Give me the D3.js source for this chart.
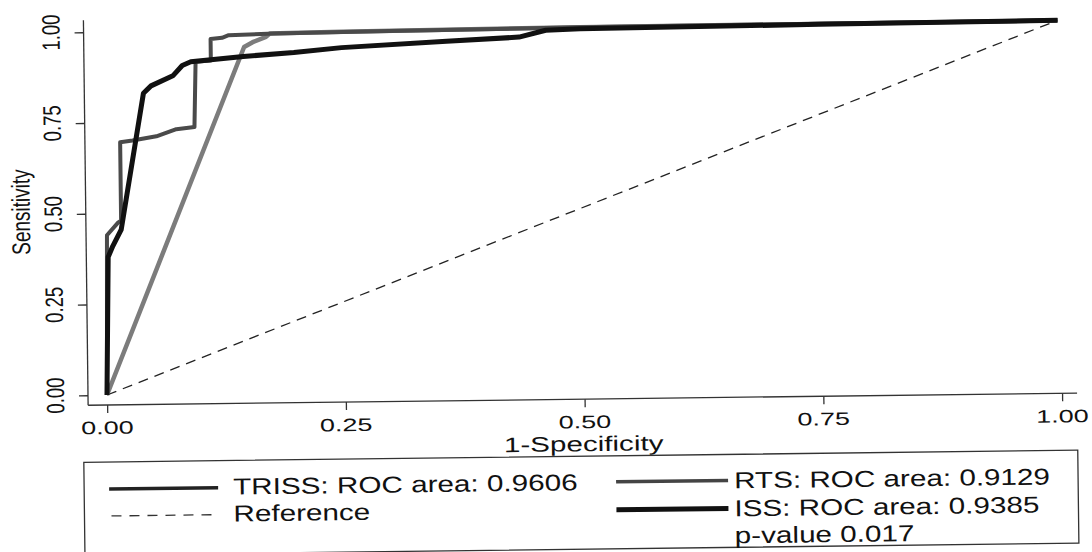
<!DOCTYPE html>
<html>
<head>
<meta charset="utf-8">
<script src="https://cdn.jsdelivr.net/npm/d3@7"></script>
<style>
body { margin: 0; background: #fff; }
text { font-family: "Liberation Sans", Arial, sans-serif; fill: #111; }
</style>
</head>
<body>
<div id="chart"></div>
<script>
// ROC comparison: TRISS vs RTS vs ISS

const svgWidth = 1092
const svgHeight = 552

// 1-specificity / sensitivity
const trissX = [0, 0.002, 0.014, 0.017, 0.017, 0.03, 0.055, 0.076, 0.095, 0.097, 0.113, 0.113, 0.125, 0.132, 0.18, 0.3, 0.5, 0.75, 1]
const trissY = [0, 0.44, 0.475, 0.48, 0.696, 0.70, 0.711, 0.73, 0.735, 0.915, 0.918, 0.977, 0.98, 0.987, 0.99, 0.993, 0.997, 0.999, 1]

const rtsX = [0, 0.148, 0.157, 0.171, 0.175, 0.25, 0.5, 1]
const rtsY = [0, 0.954, 0.967, 0.981, 0.99, 0.993, 0.997, 1]

const issX = [0, 0.003, 0.008, 0.017, 0.042, 0.05, 0.073, 0.083, 0.092, 0.147, 0.2, 0.25, 0.36, 0.436, 0.464, 0.5, 0.75, 1]
const issY = [0, 0.38, 0.41, 0.455, 0.83, 0.85, 0.877, 0.905, 0.915, 0.928, 0.937, 0.949, 0.963, 0.972, 0.99, 0.993, 0.997, 1]

const refX = [0, 1]
const refY = [0, 1]

const xTicks = [0, 0.25, 0.5, 0.75, 1]
const yTicks = [0, 0.25, 0.5, 0.75, 1]
const tickLabels = ["0.00", "0.25", "0.50", "0.75", "1.00"]

const legendLeft = ["TRISS: ROC area: 0.9606", "Reference"]
const legendRight = ["RTS: ROC area: 0.9129", "ISS: ROC area: 0.9385", "p-value 0.017"]

function toPoints(xarr, yarr)
{
    var pts = []
    for (var i = 0; i < xarr.length; i++) {
        pts.push([xarr[i], yarr[i]])
    }
    return pts
}

// the scan is stretched sideways, so text gets a horizontal scale
function addText(g, str, x, y, size, sx, rot, anchor)
{
    var tr = "translate(" + x + "," + y + ") scale(" + sx + ",1)"
    if (rot) tr += " rotate(" + rot + ")"
    return g.append("text")
        .attr("transform", tr)
        .attr("text-anchor", anchor || "start")
        .style("font-size", size + "px")
        .text(str)
}

var svg = d3.select("#chart")
    .append("svg")
    .attr("width", svgWidth)
    .attr("height", svgHeight)

svg.append("rect")
    .attr("width", svgWidth)
    .attr("height", svgHeight)
    .attr("fill", "#fff")

// whole page is a little tilted in the scan
var g = svg.append("g")
    .attr("transform", "rotate(-0.7,107,395)")

var x = d3.scaleLinear().domain([0, 1]).range([107, 1062])
var y = d3.scaleLinear().domain([0, 1]).range([395, 32])

var line = d3.line()
    .x(d => x(d[0]))
    .y(d => y(d[1]))

// axes
g.append("line")
    .attr("x1", 88).attr("x2", 88)
    .attr("y1", 20).attr("y2", 405)
    .style("stroke", "#333").style("stroke-width", 1.3)
g.append("line")
    .attr("x1", 88).attr("x2", 1077)
    .attr("y1", 405).attr("y2", 405)
    .style("stroke", "#333").style("stroke-width", 1.3)

var yAxis = d3.axisLeft(y)
    .tickValues(yTicks)
    .tickSize(9)
    .tickSizeOuter(0)
    .tickFormat("")
g.append("g")
    .attr("transform", "translate(88,0)")
    .call(yAxis)
    .call(a => a.select(".domain").remove())
    .selectAll("line").style("stroke", "#333").style("stroke-width", 1.3)

var xAxis = d3.axisBottom(x)
    .tickValues(xTicks)
    .tickSize(8)
    .tickSizeOuter(0)
    .tickFormat("")
g.append("g")
    .attr("transform", "translate(0,405)")
    .call(xAxis)
    .call(a => a.select(".domain").remove())
    .selectAll("line").style("stroke", "#333").style("stroke-width", 1.3)

for (var i = 0; i < yTicks.length; i++) {
    addText(g, tickLabels[i], 64, y(yTicks[i]), 18.5, 1.35, -90, "middle")
}
for (var i = 0; i < xTicks.length; i++) {
    addText(g, tickLabels[i], x(xTicks[i]), 434, 18, 1.5, 0, "middle")
}
addText(g, "Sensitivity", 32, 211, 19, 1.35, -90, "middle")
addText(g, "1-Specificity", 583, 457, 21, 1.41, 0, "middle")

// curves
g.append("path")
    .attr("d", line(toPoints(refX, refY)))
    .style("fill", "none")
    .style("stroke", "#222")
    .style("stroke-width", 1.3)
    .style("stroke-dasharray", "10,7")

g.append("path")
    .attr("d", line(toPoints(rtsX, rtsY)))
    .style("fill", "none").style("stroke", "#7c7c7c").style("stroke-width", 4.5)
    .style("stroke-linejoin", "round")

g.append("path")
    .attr("d", line(toPoints(trissX, trissY)))
    .style("fill", "none").style("stroke", "#4a4a4a").style("stroke-width", 4)
    .style("stroke-linejoin", "round")

g.append("path")
    .attr("d", line(toPoints(issX, issY)))
    .style("fill", "none").style("stroke", "#111").style("stroke-width", 5)
    .style("stroke-linejoin", "round")

// legend
g.append("rect")
    .attr("x", 83).attr("y", 462)
    .attr("width", 994).attr("height", 93)
    .style("fill", "none").style("stroke", "#333").style("stroke-width", 1.3)

var leftRows = [496, 523]
var rightRows = [496, 524, 551]

g.append("line")
    .attr("x1", 108).attr("x2", 217)
    .attr("y1", leftRows[0] - 7).attr("y2", leftRows[0] - 7)
    .style("stroke", "#222").style("stroke-width", 3.5)
g.append("line")
    .attr("x1", 110).attr("x2", 217)
    .attr("y1", leftRows[1] - 7).attr("y2", leftRows[1] - 7)
    .style("stroke", "#333").style("stroke-width", 1.3)
    .style("stroke-dasharray", "10,8")
g.append("line")
    .attr("x1", 615).attr("x2", 727)
    .attr("y1", rightRows[0] - 8).attr("y2", rightRows[0] - 8)
    .style("stroke", "#444").style("stroke-width", 3.5)
g.append("line")
    .attr("x1", 615).attr("x2", 727)
    .attr("y1", rightRows[1] - 8).attr("y2", rightRows[1] - 8)
    .style("stroke", "#111").style("stroke-width", 5)

for (var i = 0; i < legendLeft.length; i++) {
    addText(g, legendLeft[i], 232, leftRows[i], 23, 1.29, 0, "start")
}
for (var i = 0; i < legendRight.length; i++) {
    addText(g, legendRight[i], 733, rightRows[i], 23, 1.29, 0, "start")
}
</script>
</body>
</html>
